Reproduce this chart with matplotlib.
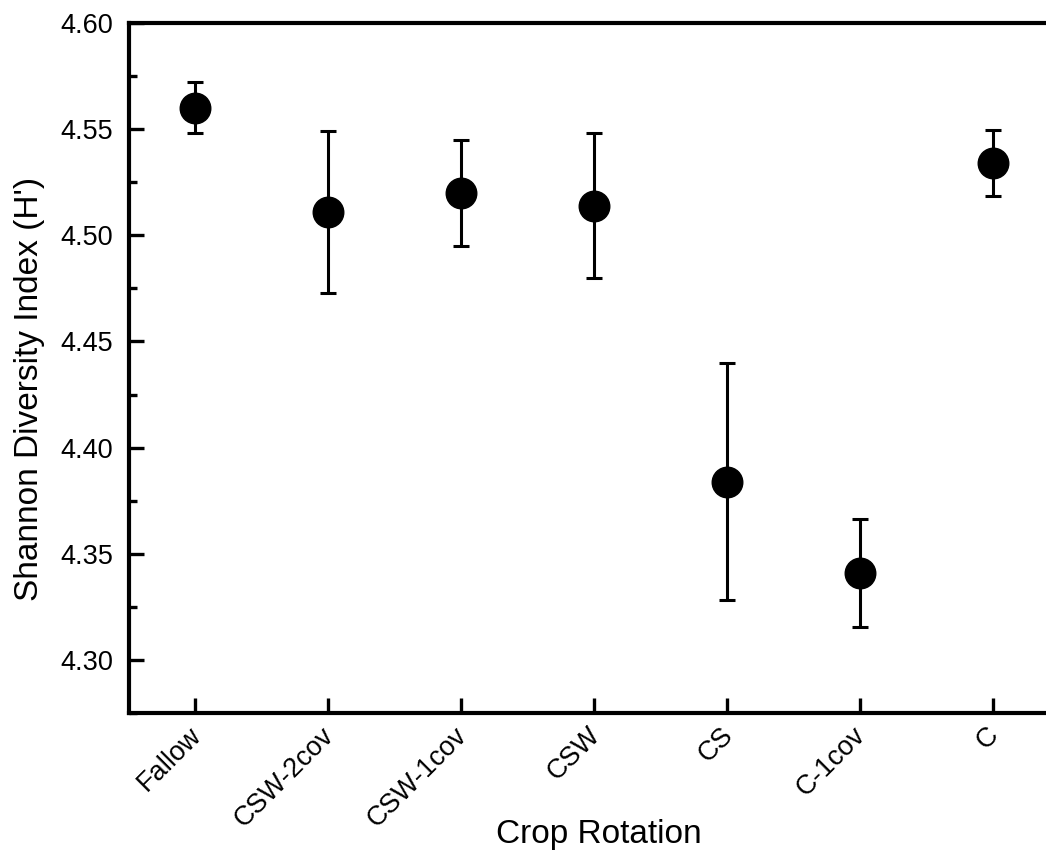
import matplotlib
matplotlib.use("Agg")
import matplotlib.pyplot as plt
import matplotlib.transforms as mtransforms
from matplotlib.ticker import MultipleLocator, FormatStrFormatter

plt.rcParams['font.family'] = ['Liberation Sans', 'DejaVu Sans']

rotations = ["Fallow", "CSW-2cov", "CSW-1cov", "CSW", "CS", "C-1cov", "C"]
shannon = [4.560, 4.511, 4.520, 4.514, 4.384, 4.341, 4.534]
err = [0.012, 0.038, 0.025, 0.034, 0.056, 0.0255, 0.0155]

fig = plt.figure(figsize=(10.46, 8.51), dpi=100)
ax = fig.add_axes([129 / 1046, 1 - 713 / 851, 930 / 1046, 690 / 851])

x = list(range(len(rotations)))
ax.errorbar(x, shannon, yerr=err, fmt='o', color='black', markersize=22,
            elinewidth=2.2, capsize=6, capthick=2.2)

ax.set_xlim(-0.5, 6.5)
ax.set_ylim(4.275, 4.60)
ax.yaxis.set_major_locator(MultipleLocator(0.05))
ax.yaxis.set_minor_locator(MultipleLocator(0.025))
ax.yaxis.set_major_formatter(FormatStrFormatter('%.2f'))

ax.spines['right'].set_visible(False)
for s in ['left', 'bottom', 'top']:
    ax.spines[s].set_linewidth(3)

ax.tick_params(axis='y', which='major', direction='in', length=11, width=2.4,
               labelsize=19.5, pad=11.5)
ax.tick_params(axis='x', which='major', direction='in', length=11, width=2.4,
               labelsize=19.5, pad=9)
ax.tick_params(axis='y', which='minor', direction='in', length=5.5, width=2.4)
ax.tick_params(axis='x', which='both', top=False)
ax.tick_params(axis='y', which='both', right=False)

ax.set_xticks(x)
ax.set_xticklabels(rotations, rotation=45, ha='right', rotation_mode='anchor')
# nudge the rotated labels left so their ends sit under the ticks
offset = mtransforms.ScaledTranslation(-7 / 100, 3 / 100, fig.dpi_scale_trans)
for lab in ax.get_xticklabels():
    lab.set_transform(lab.get_transform() + offset)

ax.set_xlabel("Crop Rotation", fontsize=24)
ax.set_ylabel("Shannon Diversity Index (H')", fontsize=24)
ax.xaxis.set_label_coords(0.505, -0.154)
ax.yaxis.set_label_coords(-0.09, 0.469)

fig.savefig("out.png", dpi=100)
